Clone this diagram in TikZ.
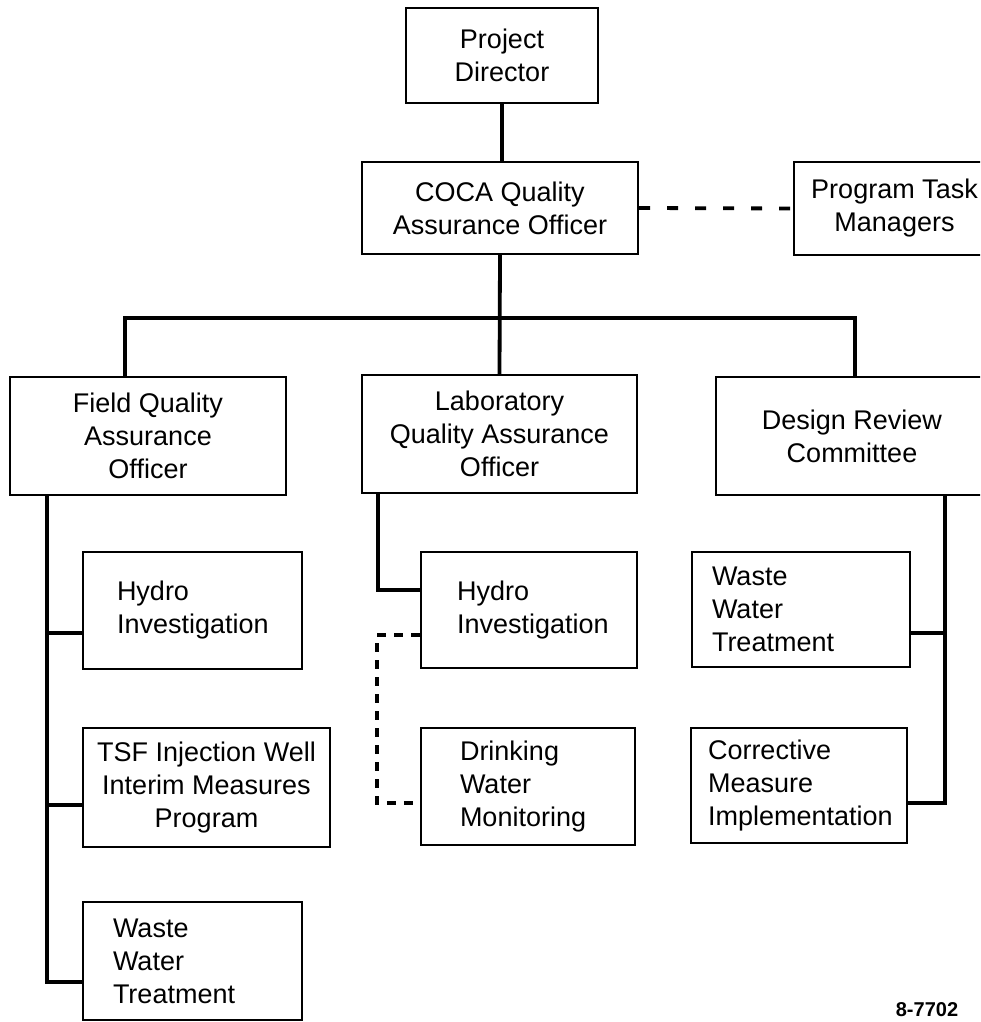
\documentclass[tikz,border=0pt]{standalone}
\usepackage{fontspec}
\setmainfont{Liberation Sans}
\tikzset{
  box/.style={draw, line width=2.4pt, align=center, inner sep=0pt},
  leaf/.style={box, align=left, inner xsep=#1},
  link/.style={line width=3.8pt},
  dashlink/.style={line width=3.8pt, dash pattern=on 11pt off 17pt},
  dotlink/.style={line width=3.4pt, dash pattern=on 9pt off 8pt},
}
\begin{document}
\begin{tikzpicture}[x=1pt,y=-1pt,font=\fontsize{27}{33}\selectfont]
  \useasboundingbox (0,0) rectangle (980,1022);
  \clip (0,0) rectangle (980,1022);
  % top of the chart
  \node[box, minimum width=192, minimum height=95] (pd) at (502,55.5) {Project\\Director};
  \node[box, minimum width=276, minimum height=92] (coca) at (500,208) {COCA Quality\\Assurance Officer};
  \node[box, minimum width=201, minimum height=93] (ptm) at (894.5,208.5) {Program Task\\Managers};
  % second level
  \node[box, minimum width=276, minimum height=118] (field) at (148,436) {Field Quality\\Assurance\\Officer};
  \node[box, minimum width=275, minimum height=118] (lab) at (499.5,434) {Laboratory\\Quality Assurance\\Officer};
  \node[box, minimum width=272, minimum height=118] (drc) at (852,436) {Design Review\\Committee};
  % field tasks
  \node[leaf=34, text width=151, minimum width=219, minimum height=117] (hyd1) at (192.5,610.5) {Hydro\\Investigation};
  \node[box, minimum width=247, minimum height=119] (tsf) at (206.5,787.5) {TSF Injection Well\\Interim Measures\\Program};
  \node[leaf=30, text width=159, minimum width=219, minimum height=118] (wwt1) at (192.5,961) {Waste\\Water\\Treatment};
  % laboratory tasks
  \node[leaf=36, text width=144, minimum width=216, minimum height=116] (hyd2) at (529,610) {Hydro\\Investigation};
  \node[leaf=39, text width=136, minimum width=214, minimum height=117] (drink) at (528,786.5) {Drinking\\Water\\Monitoring};
  % design review tasks
  \node[leaf=20, text width=178, minimum width=218, minimum height=115] (wwt2) at (801,609.5) {Waste\\Water\\Treatment};
  \node[leaf=17, text width=182, minimum width=216, minimum height=115] (cmi) at (799,785.5) {Corrective\\Measure\\Implementation};
  \node[font=\bfseries\fontsize{20}{24}\selectfont] (fig) at (927,1010) {8-7702};

  % connectors
  \draw[link] (pd.south) -- (pd.south |- coca.north);
  \draw[dashlink] (coca.east) -- (ptm.west);
  \coordinate (bus) at (500,318);
  \draw[link] (coca.south) -- (lab.north);
  \draw[link] ([xshift=-23pt]field.north) |- (bus) -| ([xshift=3pt]drc.north);

  \coordinate (fv) at ([xshift=-101pt]field.south);
  \coordinate (h1) at ([yshift=-22.5pt]hyd1.west);
  \coordinate (t1) at ([yshift=-17.5pt]tsf.west);
  \coordinate (w1) at ([yshift=-21pt]wwt1.west);
  \draw[link] (fv) |- (w1);
  \draw[link] (h1) -- (h1 -| fv);
  \draw[link] (t1) -- (t1 -| fv);

  \draw[link] ([xshift=-121.5pt]lab.south) |- ([yshift=20pt]hyd2.west);
  \coordinate (d1) at ([yshift=-25pt]hyd2.west);
  \coordinate (d2) at ([yshift=-16.5pt]drink.west);
  \draw[dotlink] (d1) -| ([xshift=-43pt]d2) -- (d2);

  \coordinate (dv) at ([xshift=93pt]drc.south);
  \coordinate (w2) at ([yshift=-23.5pt]wwt2.east);
  \coordinate (c2) at ([yshift=-17.5pt]cmi.east);
  \draw[link] (dv) |- (c2);
  \draw[link] (w2) -- (w2 -| dv);
\end{tikzpicture}
\end{document}
